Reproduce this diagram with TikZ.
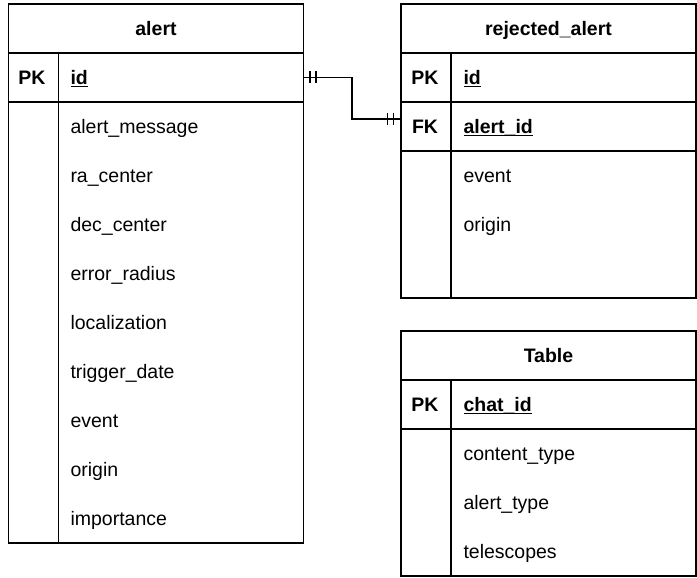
\documentclass[tikz,border=0pt]{standalone}
\usepackage{fontspec}
\setmainfont{Liberation Sans}
\usetikzlibrary{calc}
\newcommand\ulb[1]{\setbox0\hbox{#1}\rlap{\rule[-2.8pt]{\wd0}{1.3pt}}\box0}
\begin{document}
\begin{tikzpicture}[x=1pt,y=-1pt,line width=1.3pt,
  every node/.style={inner sep=0pt,outer sep=0pt,font=\fontsize{19.5}{23}\selectfont},
  tbl/.style={draw,rectangle,minimum width=295pt,anchor=north west},
  rowbox/.style={rectangle,minimum width=295pt,minimum height=49pt,anchor=north west},
  hdr/.style={anchor=base,font=\fontsize{19.5}{23}\selectfont\bfseries},
  keylab/.style={anchor=base,font=\fontsize{19.5}{23}\selectfont\bfseries},
  fld/.style={anchor=base west},
  keyfld/.style={anchor=base west,font=\fontsize{19.5}{23}\selectfont\bfseries},
  rel/.style={line width=1.3pt},
  erbar/.style={line width=1.3pt}
]
\useasboundingbox (0,0) rectangle (697,578);

% ---------------- alert ----------------
\node[tbl,minimum height=539pt] (alert) at (8.5,4) {};
\node[rowbox] (ahead) at (8.5,4) {};
\node[rowbox] (aid) at (8.5,53) {};
\draw (ahead.south west) -- (ahead.south east);
\draw (aid.south west) -- (aid.south east);
\draw (58.5,53) -- (58.5,543);
\node[hdr] (ahl) at (156,35.5) {alert};
\node[keylab] (apk) at (32,84.5) {PK};
\node[keyfld] (aidl) at (70.5,84.5) {\ulb{id}};
\node[fld] (a1) at (70.5,133.5) {alert\_message};
\node[fld] (a2) at (70.5,182.5) {ra\_center};
\node[fld] (a3) at (70.5,231.5) {dec\_center};
\node[fld] (a4) at (70.5,280.5) {error\_radius};
\node[fld] (a5) at (70.5,329.5) {localization};
\node[fld] (a6) at (70.5,378.5) {trigger\_date};
\node[fld] (a7) at (70.5,427.5) {event};
\node[fld] (a8) at (70.5,476.5) {origin};
\node[fld] (a9) at (70.5,525.5) {importance};

% ---------------- rejected_alert ----------------
\node[tbl,minimum height=294pt] (rej) at (401,4) {};
\node[rowbox] (rhead) at (401,4) {};
\node[rowbox] (rid) at (401,53) {};
\node[rowbox] (rfk) at (401,102) {};
\draw (rhead.south west) -- (rhead.south east);
\draw (rid.south west) -- (rid.south east);
\draw (rfk.south west) -- (rfk.south east);
\draw (451,53) -- (451,298);
\node[hdr] (rhl) at (548.5,35.5) {rejected\_alert};
\node[keylab] (rpk) at (425,84.5) {PK};
\node[keyfld] (ridl) at (463.5,84.5) {\ulb{id}};
\node[keylab] (rfkl) at (425,133.5) {FK};
\node[keyfld] (rfkf) at (463.5,133.5) {\ulb{alert\_id}};
\node[fld] (r1) at (463.5,182.5) {event};
\node[fld] (r2) at (463.5,231.5) {origin};

% ---------------- Table ----------------
\node[tbl,minimum height=245pt] (tab) at (401,331) {};
\node[rowbox] (thead) at (401,331) {};
\node[rowbox] (tid) at (401,380) {};
\draw (thead.south west) -- (thead.south east);
\draw (tid.south west) -- (tid.south east);
\draw (451,380) -- (451,576);
\node[hdr] (thl) at (548.5,362.5) {Table};
\node[keylab] (tpk) at (425,411.5) {PK};
\node[keyfld] (tidl) at (463.5,411.5) {\ulb{chat\_id}};
\node[fld] (t1) at (463.5,460.5) {content\_type};
\node[fld] (t2) at (463.5,509.5) {alert\_type};
\node[fld] (t3) at (463.5,558.5) {telescopes};

% ---------------- relation ----------------
\draw[rel] (aid.east) -- ++(48.5,0) |- ([yshift=7.5pt]rfk.west);
\draw[erbar] ([xshift=6.5pt]aid.east) ++(0,-6) -- ++(0,12);
\draw[erbar] ([xshift=12.5pt]aid.east) ++(0,-6) -- ++(0,12);
\draw[erbar] ([xshift=-7.5pt,yshift=7.5pt]rfk.west) ++(0,-6) -- ++(0,12);
\draw[erbar] ([xshift=-13.5pt,yshift=7.5pt]rfk.west) ++(0,-6) -- ++(0,12);
\end{tikzpicture}
\end{document}
